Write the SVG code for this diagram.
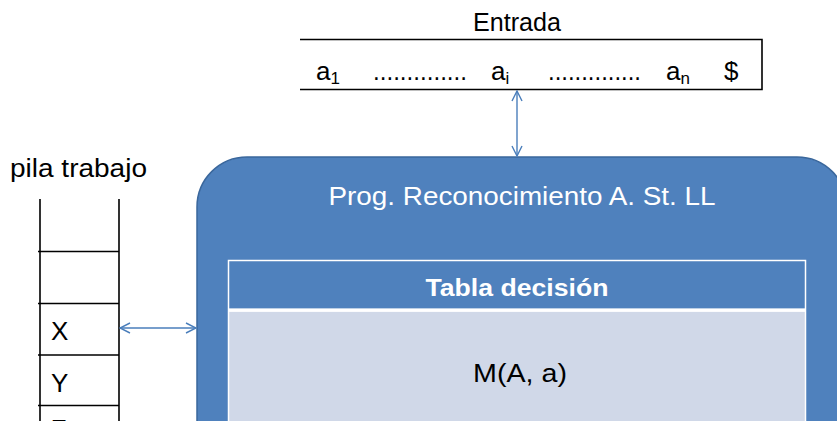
<svg xmlns="http://www.w3.org/2000/svg" width="837" height="421" viewBox="0 0 837 421">
<style>
text{font-family:"Liberation Sans",Arial,sans-serif;}
.blk{fill:#000;font-size:26px;}
.wht{fill:#fff;}
.line{stroke:#000;stroke-width:1.6;fill:none;}
.conn{stroke:#4A7EBB;stroke-width:1.4;fill:none;}
</style>
<defs>
<marker id="ah" viewBox="0 0 12 12" refX="11" refY="6" markerWidth="12" markerHeight="12" markerUnits="userSpaceOnUse" orient="auto-start-reverse">
<path d="M1,1 L11,6 L1,11" fill="none" stroke="#4A7EBB" stroke-width="1.4"/>
</marker>
</defs>

<g id="entrada">
<text class="blk" x="517" y="31" font-size="25" text-anchor="middle" textLength="88" lengthAdjust="spacingAndGlyphs">Entrada</text>
<path class="line" d="M300,39.5 H762 V89.5 H300"/>
<text class="blk" x="316" y="80">a<tspan font-size="17" dy="4">1</tspan></text>
<text class="blk" x="373" y="80" textLength="94" lengthAdjust="spacingAndGlyphs">..............</text>
<text class="blk" x="491" y="80">a<tspan font-size="17" dy="4">i</tspan></text>
<text class="blk" x="548" y="80" textLength="93" lengthAdjust="spacingAndGlyphs">..............</text>
<text class="blk" x="666" y="80">a<tspan font-size="17" dy="4">n</tspan></text>
<text class="blk" x="724" y="80">$</text>
</g>

<g id="pila">
<text class="blk" x="10" y="177" textLength="137" lengthAdjust="spacingAndGlyphs">pila trabajo</text>
<path class="line" d="M40,199 V421 M119,199 V421 M38,251.5 H119 M38,303.5 H119 M38,355 H119 M38,405.5 H119"/>
<text class="blk" x="51" y="340">X</text>
<text class="blk" x="51" y="392">Y</text>
<text class="blk" x="51" y="438">Z</text>
</g>

<g id="programa">
<rect x="197" y="157" width="650" height="400" rx="50" ry="50" fill="#4F81BD" stroke="#3A679C" stroke-width="1.5"/>
<text class="wht" x="522" y="205" font-size="25" text-anchor="middle" textLength="387" lengthAdjust="spacingAndGlyphs">Prog. Reconocimiento A. St. LL</text>
</g>

<g id="tabla">
<rect x="228.5" y="260.5" width="577" height="49" fill="#4F81BD" stroke="#fff" stroke-width="1.5"/>
<rect x="228.5" y="311" width="577" height="130" fill="#D0D8E8" stroke="#fff" stroke-width="1.5"/>
<line x1="228" y1="310" x2="806" y2="310" stroke="#fff" stroke-width="3"/>
<text class="wht" x="517" y="296" font-size="24" font-weight="bold" text-anchor="middle" textLength="183" lengthAdjust="spacingAndGlyphs">Tabla decisión</text>
<text class="blk" x="520" y="382" text-anchor="middle" textLength="94" lengthAdjust="spacingAndGlyphs">M(A, a)</text>
</g>

<g id="connectors">
<line class="conn" x1="517" y1="91" x2="517" y2="156" marker-start="url(#ah)" marker-end="url(#ah)"/>
<line class="conn" x1="120" y1="328" x2="196" y2="328" marker-start="url(#ah)" marker-end="url(#ah)"/>
</g>
</svg>
